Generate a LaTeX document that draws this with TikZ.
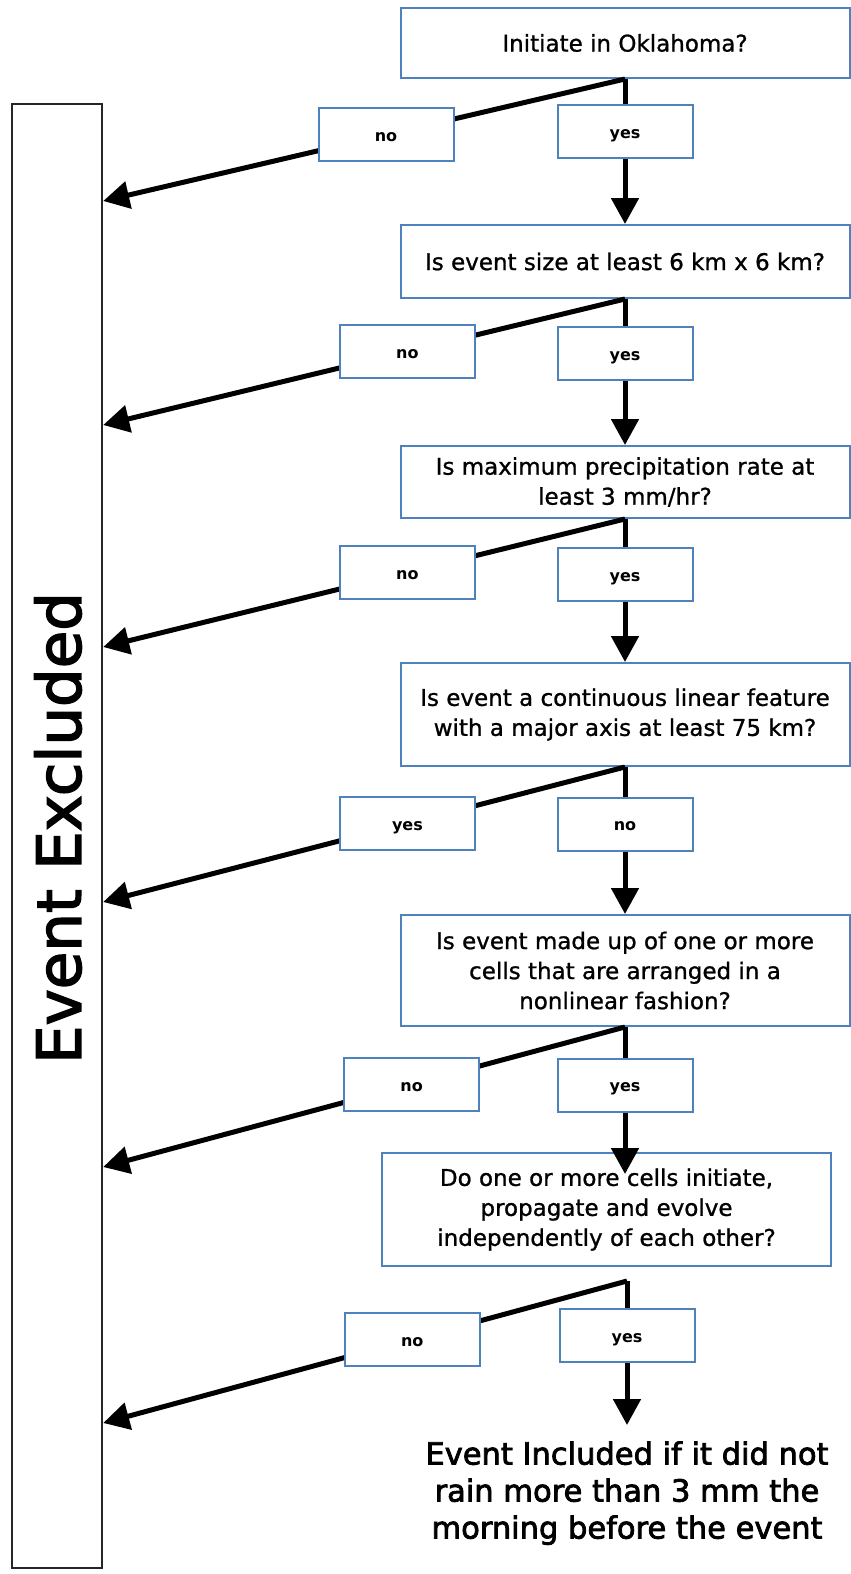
\documentclass[tikz,border=0pt]{standalone}
\usepackage{fontspec}
\setmainfont{DejaVu Sans}
\newfontfamily\qfont{DejaVu Sans}[FakeBold=1]
\newfontfamily\bigfont{DejaVu Sans}[FakeBold=2.5]
\usepackage{tikz}
\usetikzlibrary{arrows.meta,positioning,calc}
\definecolor{BoxBlue}{RGB}{79,129,189}

\begin{document}
\begin{tikzpicture}[x=0.5pt, y=-0.5pt, >={Triangle[length=13pt,width=13.5pt]},
	   every node/.style={font=\qfont\fontsize{11.5}{15}\selectfont},
	   question/.style = {rectangle, draw=BoxBlue, line width=1pt, minimum width=224.5pt,
	                      minimum height=#1, align=center, inner sep=2pt},
	   answer/.style   = {rectangle, draw=BoxBlue, line width=1pt, fill=white,
	                      minimum width=67.5pt, minimum height=26.5pt, inner sep=0pt,
	                      font=\bfseries\fontsize{8}{10}\selectfont,
	                      text height=1.5ex, text depth=.25ex},
	   excluded/.style = {rectangle, draw=black!85, line width=1.2pt,
	                      minimum width=45pt, minimum height=732pt, inner sep=0pt},
	   outcome/.style  = {align=center, inner sep=8pt, font=\bigfont\fontsize{15.25}{18.5}\selectfont},
	   branch/.style   = {draw=black, line width=2.5pt}]
	\useasboundingbox (0,0) rectangle (851,1574);

	%% Questions
	\node [question=35pt] (q1) at (625,43) {Initiate in Oklahoma?};
	\node [question=36.5pt, below=72.5pt of q1] (q2) {Is event size at least 6 km x 6 km?};
	\node [question=36pt, below=73pt of q2] (q3) {Is maximum precipitation rate at\\least 3 mm/hr?};
	\node [question=51.5pt, below=71.5pt of q3] (q4) {Is event a continuous linear feature\\with a major axis at least 75 km?};
	\node [question=55.5pt, below=73.5pt of q4] (q5) {Is event made up of one or more\\cells that are arranged in a\\nonlinear fashion?};
	\node [question=56.5pt, below=62.5pt of q5, xshift=-9.25pt] (q6) {Do one or more cells initiate,\\propagate and evolve\\independently of each other?};

	%% Outcomes
	\node [excluded] (excl) at (57,836) {};
	\node [rotate=90, font=\bigfont\fontsize{30.5}{36}\selectfont] (excltext) at (58,828) {Event Excluded};
	\coordinate (j6) at (627,1281);
	\node [outcome, below=72pt of j6] (final) {Event Included if it did not\\rain more than 3 mm the\\morning before the event};

	%% Branches
	\draw[branch,->] (q1.south) -- node[answer,pos=0.36] (yes1) {yes} (q2.north);
	\draw[branch,->] (q1.south) -- node[answer,pos=0.458] (no1) {no} (excl.east |- 0,201);
	\draw[branch,->] (q2.south) -- node[answer,pos=0.373] (yes2) {yes} (q3.north);
	\draw[branch,->] (q2.south) -- node[answer,pos=0.417] (no2) {no} (excl.east |- 0,425);
	\draw[branch,->] (q3.south) -- node[answer,pos=0.39] (yes3) {yes} (q4.north);
	\draw[branch,->] (q3.south) -- node[answer,pos=0.417] (no3) {no} (excl.east |- 0,647);
	\draw[branch,->] (q4.south) -- node[answer,pos=0.388] (no4) {no} (q5.north);
	\draw[branch,->] (q4.south) -- node[answer,pos=0.417] (yes4) {yes} (excl.east |- 0,902);
	\draw[branch,->,shorten >=-11pt] (q5.south) -- node[answer,pos=0.464] (yes5) {yes} (q5.south |- q6.north);
	\draw[branch,->] (q5.south) -- node[answer,pos=0.409] (no5) {no} (excl.east |- 0,1167);
	\draw[branch,->] (j6) -- node[answer,pos=0.378] (yes6) {yes} (final.north);
	\draw[branch,->] (j6) -- node[answer,pos=0.41] (no6) {no} (excl.east |- 0,1423);
\end{tikzpicture}
\end{document}
